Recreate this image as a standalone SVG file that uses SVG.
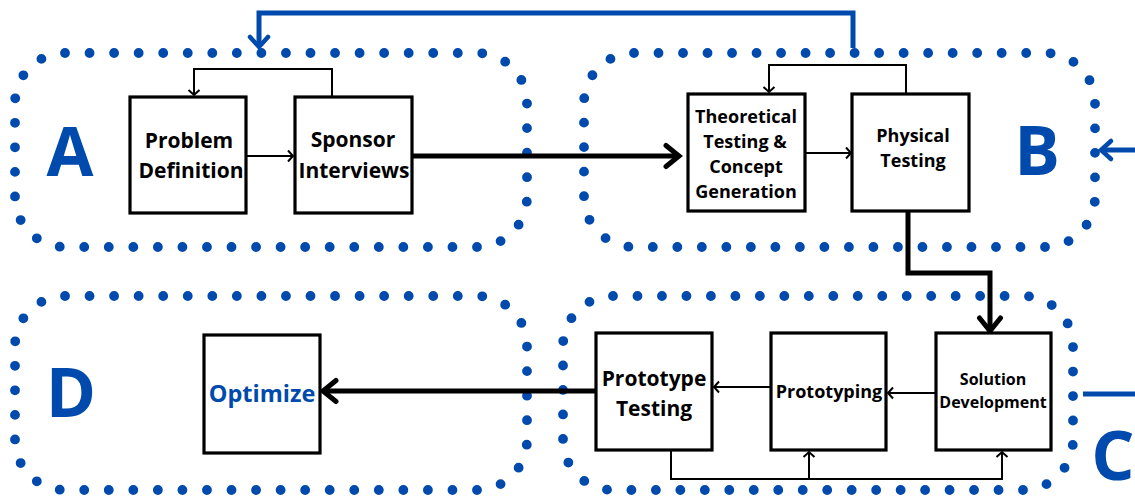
<svg xmlns="http://www.w3.org/2000/svg" width="1135" height="497" viewBox="0 0 1135 497">
<defs>
<style>
.grp{fill:none;stroke:#004AAD;stroke-width:9.8;stroke-linecap:round;stroke-dasharray:0 10}
.box{fill:#fff;stroke:#000;stroke-width:3.2}
.lbl{font-family:"Open Sans","Liberation Sans",sans-serif;font-weight:bold;fill:#000;text-anchor:middle}
.big{font-family:"Open Sans","Liberation Sans",sans-serif;font-weight:bold;fill:#004AAD;font-size:68px;text-anchor:middle}
.thin{fill:none;stroke:#000;stroke-width:2}
.thick{fill:none;stroke:#000;stroke-width:5}
.blue{fill:none;stroke:#004AAD;stroke-width:5}
</style>
<marker id="ah" markerUnits="userSpaceOnUse" markerWidth="14" markerHeight="14" refX="7" refY="7" orient="auto" viewBox="0 0 14 14">
<path d="M2,1.5 L7,7 L2,12.5" fill="none" stroke="#000" stroke-width="2"/>
</marker>
<marker id="ahT" markerUnits="userSpaceOnUse" markerWidth="28" markerHeight="28" refX="21" refY="14" orient="auto" viewBox="0 0 28 28">
<path d="M8,3.5 L21,14 L8,24.5" fill="none" stroke="#000" stroke-width="5" stroke-linecap="round"/>
</marker>
<marker id="ahB" markerUnits="userSpaceOnUse" markerWidth="26" markerHeight="26" refX="20" refY="13" orient="auto" viewBox="0 0 26 26">
<path d="M10,4 L20,13 L10,22" fill="none" stroke="#004AAD" stroke-width="4.5" stroke-linecap="round"/>
</marker>
</defs>
<rect width="1135" height="497" fill="#fff"/>

<g id="groupA">
<rect class="grp" x="15" y="53" width="512" height="194" rx="50" pathLength="540"/>
<text class="big" x="70" y="176">A</text>
</g>
<g id="groupB">
<rect class="grp" x="584" y="53" width="511" height="194" rx="50" pathLength="540"/>
<text class="big" x="1037" y="175">B</text>
</g>
<g id="groupC">
<rect class="grp" x="563" y="296" width="510" height="194" rx="50" pathLength="540"/>
<text class="big" x="1113" y="480">C</text>
</g>
<g id="groupD">
<rect class="grp" x="15" y="296" width="512" height="194" rx="50" pathLength="540"/>
<text class="big" x="71" y="417">D</text>
</g>

<g id="connectors">
<path class="thin" d="M246,156 H293" marker-end="url(#ah)"/>
<path class="thin" d="M332,97 V69 H194 V95" marker-end="url(#ah)"/>
<path class="thick" d="M412,156 H679" marker-end="url(#ahT)"/>
<path class="thin" d="M805,153 H851" marker-end="url(#ah)"/>
<path class="thin" d="M906,93 V65 H769 V92" marker-end="url(#ah)"/>
<path class="blue" d="M853,48 V13 H259 V47" marker-end="url(#ahB)"/>
<path class="blue" d="M1135,150 H1101" marker-end="url(#ahB)"/>
<path class="blue" d="M1083,394 H1135"/>
<path class="thick" d="M908,211 V273 H990 V331" marker-end="url(#ahT)"/>
<path class="thin" d="M771,387 H714" marker-end="url(#ah)"/>
<path class="thin" d="M936,393 H888" marker-end="url(#ah)"/>
<path class="thin" d="M671,450 V479 H1002 V452" marker-end="url(#ah)"/>
<path class="thin" d="M809,479 V452" marker-end="url(#ah)"/>
<path class="thick" d="M596,391 H323" marker-end="url(#ahT)"/>
</g>

<g id="problemDefinition">
<rect class="box" x="130" y="97" width="116" height="116"/>
<text class="lbl" font-size="21" x="189" y="148">Problem</text>
<text class="lbl" font-size="21" x="191" y="178">Definition</text>
</g>
<g id="sponsorInterviews">
<rect class="box" x="295" y="97" width="117" height="116"/>
<text class="lbl" font-size="21" x="353" y="147">Sponsor</text>
<text class="lbl" font-size="21" x="354" y="178">Interviews</text>
</g>
<g id="theoreticalTesting">
<rect class="box" x="688" y="94" width="117" height="117"/>
<text class="lbl" font-size="18" x="746" y="123">Theoretical</text>
<text class="lbl" font-size="18" x="745" y="148">Testing &amp;</text>
<text class="lbl" font-size="18" x="746" y="173">Concept</text>
<text class="lbl" font-size="18" x="746" y="198">Generation</text>
</g>
<g id="physicalTesting">
<rect class="box" x="852" y="94" width="117" height="117"/>
<text class="lbl" font-size="18" x="913" y="142">Physical</text>
<text class="lbl" font-size="18" x="913" y="167">Testing</text>
</g>
<g id="solutionDevelopment">
<rect class="box" x="936" y="333" width="115" height="117"/>
<text class="lbl" font-size="16" x="993" y="385">Solution</text>
<text class="lbl" font-size="16" x="993" y="408">Development</text>
</g>
<g id="prototyping">
<rect class="box" x="771" y="333" width="115" height="117"/>
<text class="lbl" font-size="18" x="829" y="398">Prototyping</text>
</g>
<g id="prototypeTesting">
<rect class="box" x="596" y="333" width="116" height="117"/>
<text class="lbl" font-size="21" x="654" y="386">Prototype</text>
<text class="lbl" font-size="21" x="654" y="416">Testing</text>
</g>
<g id="optimize">
<rect class="box" x="204" y="335" width="116" height="118"/>
<text class="lbl" font-size="23.5" x="262" y="402" style="fill:#004AAD">Optimize</text>
</g>
</svg>
